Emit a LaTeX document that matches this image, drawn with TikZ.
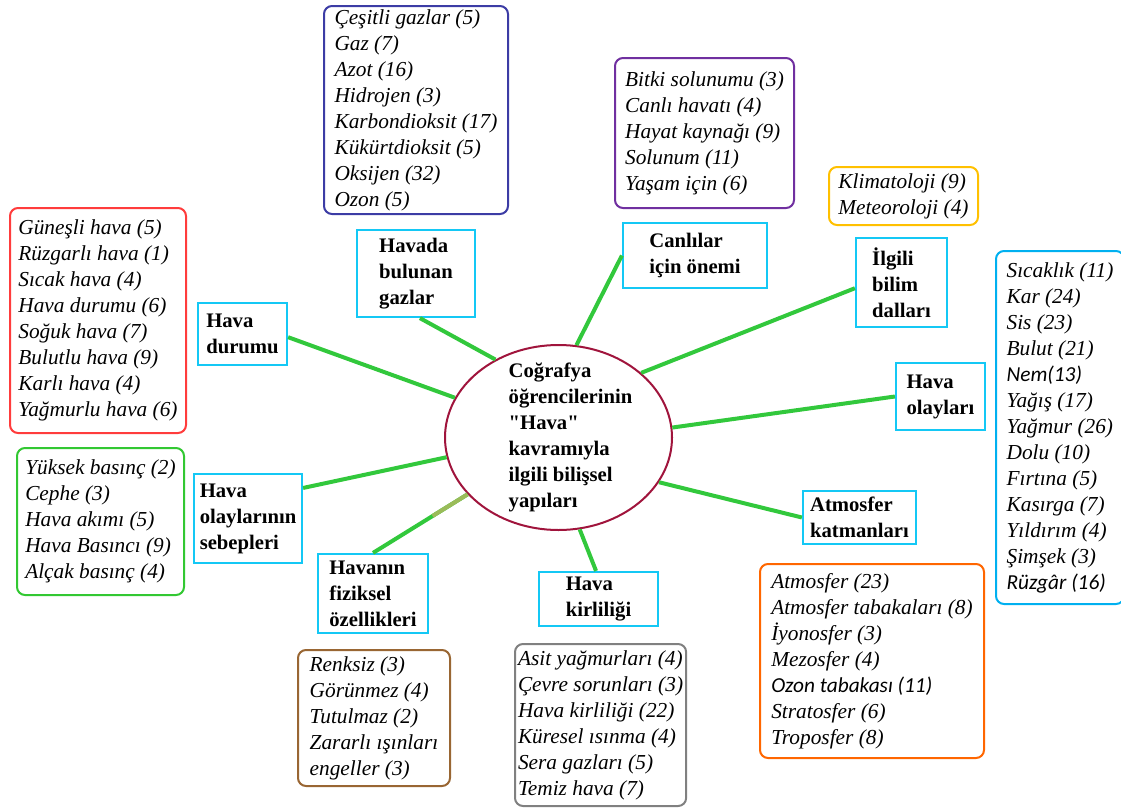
\documentclass[tikz,border=0pt]{standalone}
\usepackage{fontspec}
\setmainfont{Liberation Serif}[Ligatures=TeXOff]
\newfontfamily\calfont{Carlito}
\usepackage{xcolor}
\usetikzlibrary{shapes.geometric, calc}
\newlength{\pxu}
\setlength{\pxu}{0.75pt}
\definecolor{headblue}{RGB}{20,200,245}
\definecolor{linkgreen}{RGB}{50,200,60}
\definecolor{linkolive}{RGB}{155,187,89}
\definecolor{corered}{RGB}{160,20,60}
\definecolor{redlist}{RGB}{255,60,60}
\definecolor{bluelist}{RGB}{60,60,165}
\definecolor{purplelist}{RGB}{112,48,160}
\definecolor{goldlist}{RGB}{255,192,0}
\definecolor{cyanlist}{RGB}{0,176,240}
\definecolor{greenlist}{RGB}{50,200,50}
\definecolor{brownlist}{RGB}{153,102,51}
\definecolor{graylist}{RGB}{128,128,128}
\definecolor{orangelist}{RGB}{255,102,0}

\begin{document}
\begin{tikzpicture}[
    x=0.75pt, y=-0.75pt,
    head/.style={rectangle, draw=headblue, line width=2.2\pxu, align=left, inner sep=2\pxu, font=\fontsize{15.5}{19.5}\selectfont\bfseries},
    core/.style={ellipse, draw=corered, line width=2\pxu, minimum width=227\pxu, minimum height=185\pxu},
    coretext/.style={align=left, inner sep=0pt, font=\fontsize{15.5}{19.5}\selectfont\bfseries},
    items/.style={rectangle, rounded corners=8\pxu, draw=#1, line width=2\pxu, align=left, inner sep=3\pxu, anchor=north west, font=\fontsize{16}{19.5}\selectfont\itshape},
    link/.style={draw=linkgreen, line width=4\pxu}
]
\useasboundingbox (0,0) rectangle (1121,810);

\node[core] (core) at (558.5,437.5) {};
\node[coretext] (coretext) at ([xshift=12\pxu]core.center) {Coğrafya\\öğrencilerinin\\"Hava"\\kavramıyla\\ilgili bilişsel\\yapıları};

\node[head, minimum width=89\pxu, minimum height=62\pxu] (hdurumu) at (242.5,334) {Hava\\durumu};
\node[head, minimum width=118\pxu, minimum height=87\pxu] (gazlar) at (416,273.5) {Havada\\bulunan\\gazlar};
\node[head, minimum width=144\pxu, minimum height=65\pxu] (canli) at (695,255.5) {Canlılar\\için önemi};
\node[head, minimum width=91\pxu, minimum height=89\pxu] (bilim) at (901.5,282.5) {İlgili\\bilim\\dalları};
\node[head, minimum width=89\pxu, minimum height=67\pxu] (olaylar) at (940.5,396.5) {Hava\\olayları};
\node[head, minimum width=113\pxu, minimum height=53\pxu] (katman) at (859.5,517.5) {Atmosfer\\katmanları};
\node[head, minimum width=119\pxu, minimum height=54\pxu] (kirlilik) at (598.5,599) {Hava\\kirliliği};
\node[head, minimum width=110\pxu, minimum height=79\pxu] (fiziksel) at (373,593.5) {Havanın\\fiziksel\\özellikleri};
\node[head, minimum width=108\pxu, minimum height=89\pxu] (sebep) at (248,518.5) {Hava\\olaylarının\\sebepleri};

\node[items=redlist, minimum width=176\pxu, minimum height=225\pxu] (durumlist) at (9,207) {Güneşli hava (5)\\Rüzgarlı hava (1)\\Sıcak hava (4)\\Hava durumu (6)\\Soğuk hava (7)\\Bulutlu hava (9)\\Karlı hava (4)\\Yağmurlu hava (6)};
\node[items=bluelist, minimum width=184\pxu, minimum height=208\pxu] (gazlist) at (323,5) {Çeşitli gazlar (5)\\Gaz (7)\\Azot (16)\\Hidrojen (3)\\Karbondioksit (17)\\Kükürtdioksit (5)\\Oksijen (32)\\Ozon (5)};
\node[items=purplelist, minimum width=179\pxu, minimum height=150\pxu] (canlilist) at (614,57) {Bitki solunumu (3)\\Canlı havatı (4)\\Hayat kaynağı (9)\\Solunum (11)\\Yaşam için (6)};
\node[items=goldlist, minimum width=149\pxu, minimum height=58\pxu] (bilimlist) at (828,166) {Klimatoloji (9)\\Meteoroloji (4)};
\node[items=cyanlist, minimum width=128\pxu, minimum height=353\pxu] (olaylist) at (995,250) {Sıcaklık (11)\\Kar (24)\\Sis (23)\\Bulut (21)\\{\calfont Nem(13)}\\Yağış (17)\\Yağmur (26)\\Dolu (10)\\Fırtına (5)\\Kasırga (7)\\Yıldırım (4)\\Şimşek (3)\\{\calfont Rüzgâr (16)}};
\node[items=greenlist, minimum width=167\pxu, minimum height=147\pxu] (sebeplist) at (16,447) {Yüksek basınç (2)\\Cephe (3)\\Hava akımı (5)\\Hava Basıncı (9)\\Alçak basınç (4)};
\node[items=brownlist, minimum width=152\pxu, minimum height=136\pxu] (fizikslist) at (297,649) {Renksiz (3)\\Görünmez (4)\\Tutulmaz (2)\\Zararlı ışınları\\engeller (3)};
\node[items=graylist, minimum width=154\pxu, minimum height=162\pxu] (kirlilist) at (514,643) {Asit yağmurları (4)\\Çevre sorunları (3)\\Hava kirliliği (22)\\Küresel ısınma (4)\\Sera gazları (5)\\Temiz hava (7)};
\node[items=orangelist, minimum width=224\pxu, minimum height=194\pxu] (katmanlist) at (759,563) {Atmosfer (23)\\Atmosfer tabakaları (8)\\İyonosfer (3)\\Mezosfer (4)\\{\calfont Ozon tabakası (11)}\\Stratosfer (6)\\Troposfer (8)};

\draw[link] (hdurumu.-4) -- (core.159);
\draw[link] (gazlar.-85) -- (core.129);
\draw[link] (canli.west) -- (core.79);
\draw[link] (bilim.187) -- (core.38);
\draw[link] (olaylar.west) -- (core.5);
\draw[link] (katman.west) -- (core.-24);
\draw[link] (kirlilik.95) -- (core.-77);
\draw[link] (fiziksel.north) -- (core.212);
\draw[link, draw=linkolive] (core.212) -- ($(core.212)!0.37!(fiziksel.north)$);
\draw[link] (sebep.29) -- (core.190);

\end{tikzpicture}
\end{document}
